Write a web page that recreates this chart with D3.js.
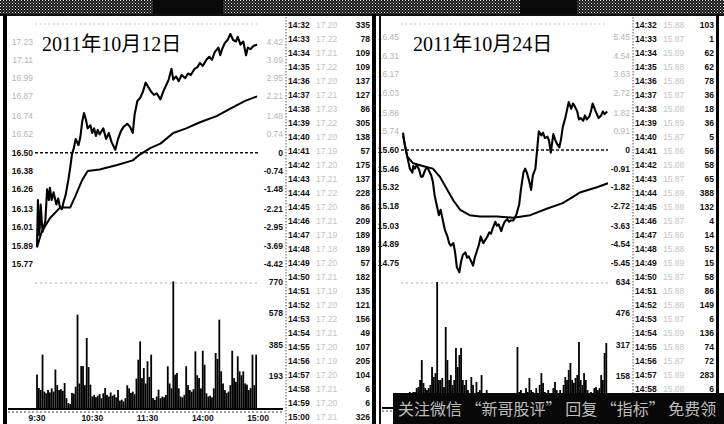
<!DOCTYPE html>
<html><head><meta charset="utf-8">
<script src="https://cdn.jsdelivr.net/npm/d3@7/dist/d3.min.js"></script>
<style>body{margin:0;background:#fff}svg{display:block}</style>
</head><body>
<svg id="c" width="724" height="424"></svg>
<script>
// ---------------- DATA ----------------
const leftTitle = "2011年10月12日";
const rightTitle = "2011年10月24日";

// minutes since 9:30 (trading minutes, 0..240) and price
const leftPriceMin = [0,1,2,3,4,6,9,11,13,14,16,18,21,23,25,27,29,31,34,36,38,40,42,45,47,49,51,53,55,58,60,62,64,66,68,72,75,78,81,85,88,91,94,98,101,104,106,109,112,115,118,121,124,127,130,134,137,140,143,146,148,151,154,157,161,164,167,171,174,177,180,184,187,190,193,197,199,201,204,207,210,213,216,218,221,224,227,229,232,235,239];
const leftPrice = [15.88,16.19,15.96,16.01,16.16,15.98,16.05,16.26,16.19,16.27,16.19,16.24,16.16,16.20,16.14,16.13,16.18,16.22,16.32,16.40,16.49,16.53,16.59,16.55,16.60,16.70,16.76,16.72,16.66,16.68,16.63,16.66,16.61,16.65,16.62,16.66,16.59,16.63,16.57,16.52,16.59,16.64,16.67,16.69,16.67,16.63,16.75,16.84,16.86,16.90,16.96,16.93,16.90,16.88,16.89,16.85,16.90,16.94,16.98,17.05,16.98,17.00,16.97,17.01,16.99,17.02,17.01,17.05,17.06,17.09,17.07,17.11,17.13,17.11,17.16,17.19,17.14,17.18,17.22,17.24,17.28,17.24,17.23,17.26,17.21,17.23,17.14,17.19,17.18,17.20,17.21];
const leftAvgMin = [0,5,14,25,36,42,49,55,68,87,104,112,123,134,148,162,177,195,213,226,239];
const leftAvg = [15.88,15.98,16.07,16.14,16.14,16.22,16.32,16.38,16.39,16.42,16.45,16.49,16.53,16.56,16.63,16.66,16.70,16.74,16.80,16.84,16.87];
// volume per 2 minutes
const leftVolume = [204,122,110,326,100,90,110,95,120,100,235,140,110,115,105,153,60,30,25,92,88,130,570,150,256,256,140,428,250,143,71,80,66,75,85,60,90,122,80,70,95,75,82,65,110,45,51,40,60,139,120,92,100,85,180,295,407,183,244,150,285,190,326,61,50,70,112,60,70,65,80,255,150,120,774,204,214,120,70,65,80,255,140,110,100,115,346,200,183,120,350,265,90,70,75,65,120,336,300,540,224,150,110,92,100,140,350,183,160,316,224,200,224,150,143,110,122,326,140,326];

const rightPriceMin = [0,2,6,8,11,12,14,16,19,21,23,26,28,30,33,35,37,40,42,44,47,49,52,54,56,59,61,63,66,68,70,73,75,77,80,82,84,87,89,91,94,96,98,101,103,105,108,110,112,115,117,119,122,124,126,129,131,133,136,138,141,143,145,148,150,152,155,157,159,162,164,166,169,171,173,176,178,180,183,185,187,190,192,194,197,199,201,204,206,208,211,213,215,218,220,222,225,227,229,232,234,236,239];
const rightPrice = [15.73,15.64,15.52,15.46,15.43,15.48,15.46,15.49,15.45,15.40,15.40,15.45,15.47,15.45,15.41,15.36,15.26,15.17,15.11,15.15,15.06,15.00,14.95,14.90,14.88,14.90,14.83,14.72,14.68,14.76,14.81,14.83,14.79,14.80,14.76,14.73,14.79,14.85,14.89,14.95,14.90,14.92,14.94,14.98,14.97,15.01,15.06,15.03,15.04,14.99,15.03,15.06,15.08,15.06,15.07,15.07,15.09,15.12,15.19,15.30,15.43,15.46,15.43,15.36,15.30,15.41,15.46,15.60,15.74,15.71,15.73,15.69,15.70,15.67,15.58,15.72,15.68,15.65,15.62,15.68,15.77,15.84,15.90,15.96,15.91,15.95,15.93,15.89,15.83,15.84,15.82,15.86,15.83,15.85,15.89,15.95,15.90,15.87,15.84,15.86,15.89,15.87,15.89];
const rightAvgMin = [0,5,12,23,35,43,52,59,67,78,90,110,129,149,169,187,207,227,240];
const rightAvg = [15.71,15.55,15.50,15.48,15.46,15.40,15.30,15.22,15.15,15.11,15.10,15.10,15.09,15.11,15.16,15.20,15.28,15.32,15.35];
const rightVolume = [61,66,71,71,76,71,76,76,96,101,137,238,122,96,86,96,112,203,152,172,634,137,137,147,101,406,238,137,162,112,137,299,203,264,299,137,112,137,86,61,152,112,61,127,76,86,162,61,46,86,56,46,51,46,56,51,46,56,51,46,56,46,51,56,61,46,66,304,76,86,61,71,96,76,147,86,76,66,96,71,112,172,122,76,61,86,61,71,96,127,86,66,86,71,112,152,137,188,223,137,122,147,162,330,137,112,172,137,86,66,76,71,96,101,86,96,162,137,274,325];

// axis tick values
const leftPriceTicks = [17.23,17.11,16.99,16.87,16.74,16.62,16.50,16.38,16.26,16.13,16.01,15.89,15.77];
const leftPctTicks = ["4.42","3.69","2.95","2.21","1.48","0.74","0","-0.74","-1.48","-2.21","-2.95","-3.69","-4.42"];
const rightPriceTicks = [16.45,16.31,16.17,16.03,15.88,15.74,15.60,15.46,15.32,15.18,15.03,14.89,14.75];
const rightPctTicks = ["5.45","4.54","3.63","2.72","1.82","0.91","0","-0.91","-1.82","-2.72","-3.63","-4.54","-5.45"];
const leftVolTicks = [770,578,385,193];
const rightVolTicks = [634,476,317,158];
const timeTicks = [0,60,120,180,240];
const timeTickLabels = ["9:30","10:30","11:30","14:00","15:00"];

// tick tables (time, price, volume)
const tableTimes = ["14:32","14:33","14:34","14:35","14:36","14:37","14:38","14:39","14:40","14:41","14:42","14:43","14:44","14:45","14:46","14:47","14:48","14:49","14:50","14:51","14:52","14:53","14:54","14:55","14:56","14:57","14:58","14:59","15:00"];
const leftTablePrice = ["17.20","17.22","17.21","17.22","17.20","17.21","17.23","17.22","17.20","17.19","17.20","17.21","17.22","17.20","17.21","17.19","17.18","17.20","17.21","17.19","17.20","17.22","17.21","17.20","17.19","17.20","17.21","17.20","17.21"];
const leftTableVol = [335,78,109,109,137,127,86,305,138,57,175,137,228,86,209,189,189,57,182,135,121,156,49,107,205,104,6,6,326];
const rightTablePrice = ["15.88","15.87","15.89","15.88","15.86","15.87","15.88","15.89","15.87","15.86","15.88","15.87","15.89","15.88","15.87","15.86","15.88","15.89","15.87","15.88","15.86","15.87","15.89","15.88","15.87","15.89","15.88"];
const rightTableVol = [103,1,62,62,78,36,18,36,5,56,58,65,388,132,4,14,52,15,58,86,149,6,136,74,72,283,6];

const watermark = "关注微信 “新哥股评” 回复 “指标” 免费领";

// ---------------- DRAW ----------------
const svg = d3.select("#c");
const defs = svg.append("defs");
const pat = defs.append("pattern").attr("id","hdr").attr("width",3).attr("height",3).attr("patternUnits","userSpaceOnUse");
pat.append("rect").attr("width",3).attr("height",3).attr("fill","#111");
pat.append("rect").attr("x",0).attr("y",0).attr("width",1).attr("height",1).attr("fill","#e8e8e8");
pat.append("rect").attr("x",1.5).attr("y",1.5).attr("width",1).attr("height",1).attr("fill","#bbb");

svg.append("rect").attr("width",724).attr("height",424).attr("fill","#fff");
svg.append("rect").attr("x",0).attr("y",0).attr("width",724).attr("height",15).attr("fill","url(#hdr)");
svg.append("rect").attr("x",153).attr("y",0).attr("width",70).attr("height",14).attr("fill","#0a0a0a");
svg.append("rect").attr("x",520).attr("y",0).attr("width",57).attr("height",14).attr("fill","#0a0a0a");
svg.append("rect").attr("x",0).attr("y",14).attr("width",724).attr("height",2).attr("fill","#111");

const lblFont = "Liberation Sans, Arial, sans-serif";

function drawPanel(p) {
  const g = svg.append("g");
  const x = d3.scaleLinear().domain([0,240]).range([p.x0,p.x1]);
  const y = d3.scaleLinear().domain([p.pLo,p.pHi]).range([p.yLo,p.yHi]);
  const yv = d3.scaleLinear().domain([0,p.vMax]).range([p.vBase,p.vTop]);

  g.append("line").attr("x1",p.x0-2).attr("x2",p.x1).attr("y1",24).attr("y2",24)
    .attr("stroke","#bbb").attr("stroke-dasharray","1.5,3").attr("stroke-width",1);
  g.append("text").attr("x",p.titleX).attr("y",51).text(p.title)
    .attr("font-family","Liberation Serif, Noto Sans CJK SC, serif").attr("font-size",20).attr("fill","#000");

  g.append("line").attr("x1",p.x0-2).attr("x2",p.x1).attr("y1",y(p.prev)).attr("y2",y(p.prev))
    .attr("stroke","#111").attr("stroke-width",1.3).attr("stroke-dasharray","3,2");
  g.append("line").attr("x1",p.x0-2).attr("x2",p.x1).attr("y1",p.vTop+1).attr("y2",p.vTop+1)
    .attr("stroke","#aaa").attr("stroke-width",1).attr("stroke-dasharray","2,3");

  p.priceTicks.forEach((v,i)=>{
    const up = i < 6;
    g.append("text").attr("x",p.lblL).attr("y",y(v)+3).attr("text-anchor","end")
      .text(v.toFixed(2)).attr("font-family",lblFont).attr("font-size",8.5)
      .attr("font-weight",up?"normal":"bold").attr("fill",up?"#b5b5b5":"#111");
    g.append("text").attr("x",p.lblR).attr("y",y(v)+3).attr("text-anchor","end")
      .text(p.pctTicks[i]).attr("font-family",lblFont).attr("font-size",8.5)
      .attr("font-weight",up?"normal":"bold").attr("fill",up?"#b5b5b5":"#111");
  });
  p.volTicks.forEach(v=>{
    g.append("text").attr("x",p.lblR).attr("y",yv(v)+3).attr("text-anchor","end")
      .text(v).attr("font-family",lblFont).attr("font-size",8.5).attr("font-weight","bold").attr("fill","#111");
  });

  g.selectAll("rect.v").data(p.volume).enter().append("rect")
    .attr("x",(d,i)=>x(i*2)-0.9).attr("width",1.8)
    .attr("y",d=>yv(d)).attr("height",d=>p.vBase-yv(d)).attr("fill","#000");

  const line = d3.line().x(d=>x(d[0])).y(d=>y(d[1]));
  g.append("path").datum(d3.zip(p.avgMin,p.avg)).attr("d",line)
    .attr("fill","none").attr("stroke","#000").attr("stroke-width",2).attr("stroke-linejoin","round");
  g.append("path").datum(d3.zip(p.priceMin,p.price)).attr("d",line)
    .attr("fill","none").attr("stroke","#000").attr("stroke-width",2.1).attr("stroke-linejoin","round");

  g.append("line").attr("x1",p.bx0).attr("x2",p.lblR).attr("y1",p.vBase+1).attr("y2",p.vBase+1)
    .attr("stroke","#000").attr("stroke-width",2);
  g.append("line").attr("x1",p.bx0).attr("x2",p.lblR).attr("y1",p.vBase+4).attr("y2",p.vBase+4)
    .attr("stroke","#444").attr("stroke-width",1).attr("stroke-dasharray","2,2");
  if (p.showTime) {
    timeTicks.forEach((t,i)=>{
      g.append("text").attr("x",x(t)).attr("y",p.vBase+13).attr("text-anchor","middle")
        .text(timeTickLabels[i]).attr("font-family",lblFont).attr("font-size",8.5).attr("font-weight","bold").attr("fill","#111");
    });
  }

  g.append("line").attr("x1",p.tabX).attr("x2",p.tabX).attr("y1",17).attr("y2",424)
    .attr("stroke","#555").attr("stroke-width",1).attr("stroke-dasharray","1.5,1.5");
  p.tableVol.forEach((vol,i)=>{
    const ty = 28 + i*14;
    g.append("text").attr("x",p.tabX+2).attr("y",ty).text(tableTimes[i])
      .attr("font-family",lblFont).attr("font-size",8.5).attr("font-weight","bold").attr("fill","#111");
    g.append("text").attr("x",p.tabX+30).attr("y",ty).text(p.tablePrice[i])
      .attr("font-family",lblFont).attr("font-size",8.5).attr("fill","#c4c4c4");
    g.append("text").attr("x",p.tabR).attr("y",ty).attr("text-anchor","end").text(vol)
      .attr("font-family",lblFont).attr("font-size",8.5).attr("font-weight","bold").attr("fill","#111");
  });
}

drawPanel({
  title:leftTitle, titleX:42, x0:37, x1:258, pLo:15.77, pHi:17.23, yLo:264, yHi:41.5, prev:16.50,
  vMax:770, vBase:408, vTop:282, lblL:33, lblR:283, bx0:8, tabX:286, tabR:370, showTime:true,
  priceTicks:leftPriceTicks, pctTicks:leftPctTicks, volTicks:leftVolTicks,
  priceMin:leftPriceMin, price:leftPrice, avgMin:leftAvgMin, avg:leftAvg, volume:leftVolume,
  tablePrice:leftTablePrice, tableVol:leftTableVol
});
drawPanel({
  title:rightTitle, titleX:413, x0:403, x1:608, pLo:14.75, pHi:16.45, yLo:263, yHi:37, prev:15.60,
  vMax:634, vBase:407, vTop:282, lblL:399, lblR:630, bx0:382, tabX:633, tabR:714, showTime:false,
  priceTicks:rightPriceTicks, pctTicks:rightPctTicks, volTicks:rightVolTicks,
  priceMin:rightPriceMin, price:rightPrice, avgMin:rightAvgMin, avg:rightAvg, volume:rightVolume,
  tablePrice:rightTablePrice, tableVol:rightTableVol
});

// panel borders
svg.append("rect").attr("x",3).attr("y",14).attr("width",4).attr("height",410).attr("fill","#000");
svg.append("rect").attr("x",372).attr("y",14).attr("width",4).attr("height",410).attr("fill","#000");
svg.append("rect").attr("x",379).attr("y",14).attr("width",2).attr("height",410).attr("fill","#111");
svg.append("rect").attr("x",716).attr("y",14).attr("width",3).attr("height",410).attr("fill","#000");

// watermark bar
svg.append("rect").attr("x",393).attr("y",393).attr("width",331).attr("height",31).attr("fill","#080808");
svg.append("text").attr("x",398).attr("y",415).text(watermark)
  .attr("font-family","Noto Sans CJK SC, sans-serif").attr("font-size",16).attr("fill","#bdbdbd");
</script>
</body></html>
